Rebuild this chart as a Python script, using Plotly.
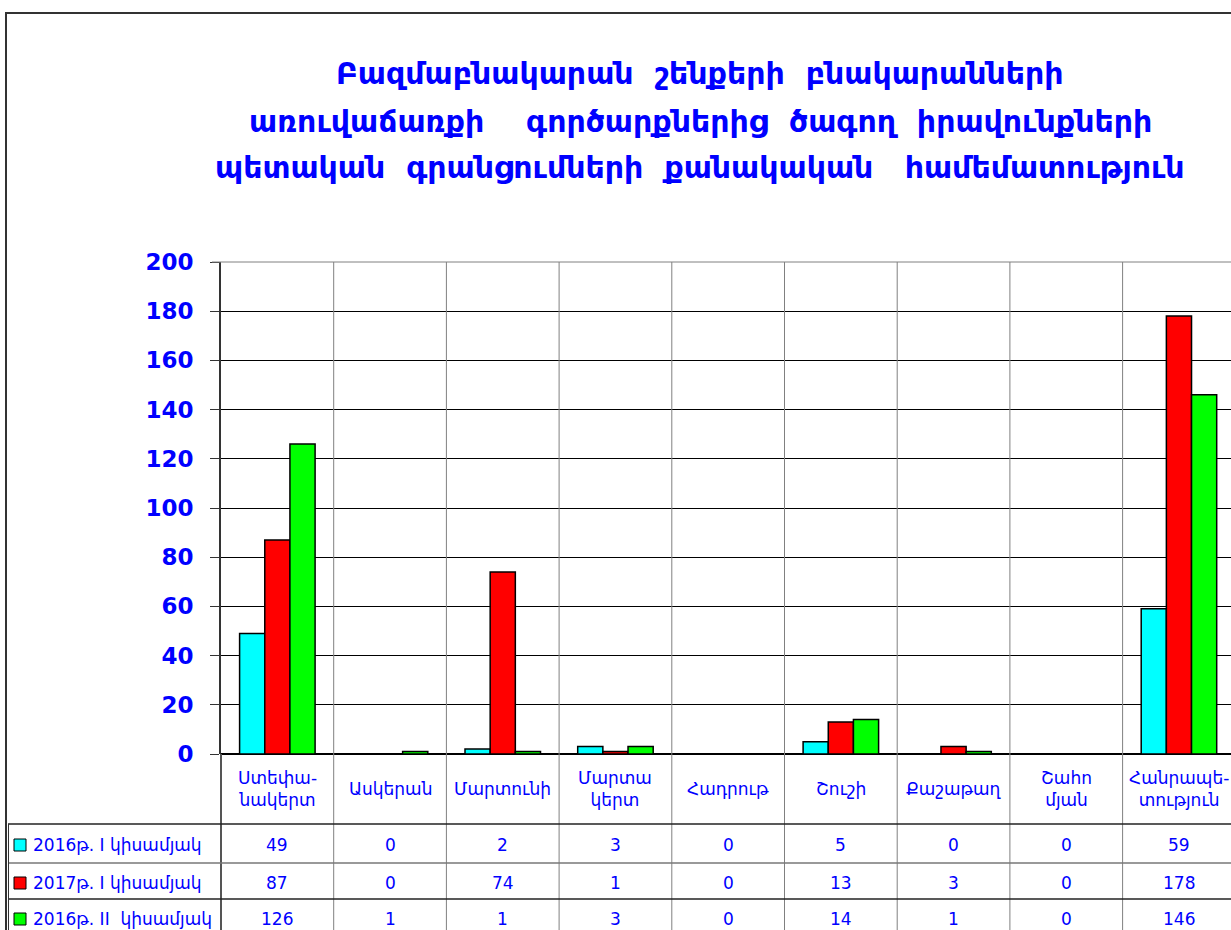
import plotly.graph_objects as go

categories = ["Ստեփա-<br>նակերտ", "Ասկերան", "Մարտունի", "Մարտա<br>կերտ", "Հադրութ",
              "Շուշի", "Քաշաթաղ", "Շահո<br>մյան", "Հանրապե-<br>տություն"]
series_names = ["2016թ. I կիսամյակ", "2017թ. I կիսամյակ", "2016թ. II  կիսամյակ"]
s2016_1 = [49, 0, 2, 3, 0, 5, 0, 0, 59]
s2017_1 = [87, 0, 74, 1, 0, 13, 3, 0, 178]
s2016_2 = [126, 1, 1, 3, 0, 14, 1, 0, 146]
series_values = [s2016_1, s2017_1, s2016_2]
colors = ["#00FFFF", "#FF0000", "#00FF00"]
y_ticks = [0, 20, 40, 60, 80, 100, 120, 140, 160, 180, 200]
title_lines = ["Բազմաբնակարան  շենքերի  բնակարանների",
               "առուվաճառքի    գործարքներից  ծագող  իրավունքների",
               "պետական  գրանցումների  քանակական   համեմատություն"]

W, H = 1231, 930
L, R, T, B = 221, 1231, 262, 754
BLUE = "#0000FF"
FONT = "DejaVu Sans"

def px(xp):
    return (xp - L) / (R - L)

def py(yp):
    return (B - yp) / (B - T)

xs = list(range(len(categories)))
fig = go.Figure()
for name, vals, col in zip(series_names, series_values, colors):
    fig.add_trace(go.Bar(x=xs, y=vals, name=name, marker=dict(color=col, line=dict(color="black", width=1.5))))

cat_w = 112.7
x_hi = -0.5 + (R - L) / cat_w

fig.update_layout(
    width=W, height=H, barmode="group", bargap=0.33, bargroupgap=0,
    margin=dict(l=L, r=W - R, t=T, b=H - B, pad=0),
    paper_bgcolor="white", plot_bgcolor="white", showlegend=False,
    xaxis=dict(range=[-0.5, x_hi], showticklabels=False, ticks="", showgrid=False, zeroline=False, showline=False),
    yaxis=dict(range=[0, 200], tickvals=y_ticks, showgrid=True, gridcolor="black", gridwidth=1,
               zeroline=True, zerolinecolor="black", zerolinewidth=2,
               showline=True, linecolor="#333333", linewidth=2,
               ticks="outside", ticklen=9, tickcolor="#333333", tickwidth=1,
               tickfont=dict(family=FONT, size=23, color=BLUE, weight="bold"), ticklabelstandoff=12),
)

shapes = []
# top gridline at 200
shapes.append(dict(type="line", xref="paper", yref="paper", x0=px(212), x1=1, y0=1, y1=1,
                   line=dict(color="#808080", width=1)))
# category separators
for k in range(len(categories) - 1):
    shapes.append(dict(type="line", xref="x", yref="paper", x0=k + 0.5, x1=k + 0.5, y0=py(935), y1=1,
                       line=dict(color="#808080", width=1)))
# left axis extension
shapes.append(dict(type="line", xref="paper", yref="paper", x0=0, x1=0, y0=py(935), y1=0,
                   line=dict(color="#555555", width=2)))
# table horizontal lines
for yy, c in [(824, "#222222"), (863, "#777777"), (899, "#222222")]:
    shapes.append(dict(type="line", xref="paper", yref="paper", x0=px(8), x1=1, y0=py(yy), y1=py(yy),
                       line=dict(color=c, width=1.5)))
# table left border
shapes.append(dict(type="line", xref="paper", yref="paper", x0=px(8.5), x1=px(8.5), y0=py(824), y1=py(935),
                   line=dict(color="#333333", width=1)))
# outer frame
shapes.append(dict(type="line", xref="paper", yref="paper", x0=px(6), x1=1, y0=py(13), y1=py(13),
                   line=dict(color="#333333", width=2)))
shapes.append(dict(type="line", xref="paper", yref="paper", x0=px(6), x1=px(6), y0=py(12), y1=py(935),
                   line=dict(color="#333333", width=2)))

row_centers = [845, 883, 919]
annotations = []
for i, (name, vals, col) in enumerate(zip(series_names, series_values, colors)):
    yc = row_centers[i]
    shapes.append(dict(type="rect", xref="paper", yref="paper", x0=px(14), x1=px(26),
                       y0=py(yc + 6), y1=py(yc - 6), fillcolor=col, line=dict(color="black", width=1)))
    annotations.append(dict(text=name, xref="paper", yref="paper", x=px(31), y=py(yc), xanchor="left",
                            yanchor="middle", showarrow=False, font=dict(family=FONT, size=17, color=BLUE)))
    for k, v in enumerate(vals):
        annotations.append(dict(text=str(v), xref="x", yref="paper", x=k, y=py(yc), xanchor="center",
                                yanchor="middle", showarrow=False, font=dict(family=FONT, size=17, color=BLUE)))

for k, c in enumerate(categories):
    annotations.append(dict(text=c, xref="x", yref="paper", x=k, y=py(789), xanchor="center", yanchor="middle",
                            showarrow=False, align="center", font=dict(family=FONT, size=17, color=BLUE)))

for line, yc in zip(title_lines, [73, 122, 167]):
    annotations.append(dict(text=line.replace(" ", "\u00a0"), xref="paper", yref="paper", x=px(700), y=py(yc),
                            xanchor="center", yanchor="middle", showarrow=False,
                            font=dict(family=FONT, size=30, color=BLUE, weight="bold")))

fig.update_layout(shapes=shapes, annotations=annotations)
fig.write_html("out.html", config={"displayModeBar": False},
               post_script="document.body.style.margin='0';document.body.style.overflow='hidden';")
